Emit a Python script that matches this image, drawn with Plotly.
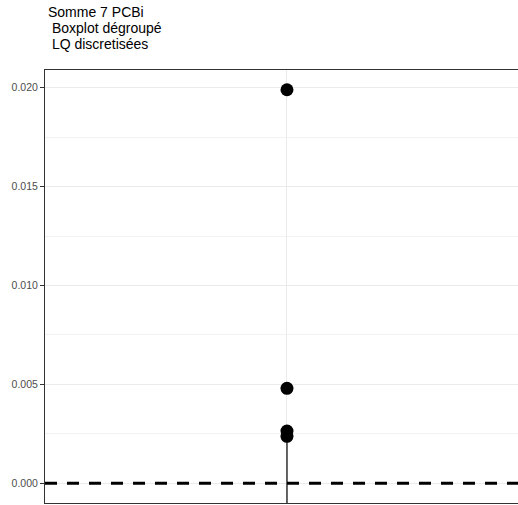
import plotly.graph_objects as go

# Data
category = [1]
outliers = [0.0199, 0.0048, 0.00264, 0.00237]
box_q1 = [-0.004]
box_median = [-0.003]
box_q3 = [-0.002]
box_lowerfence = [-0.005]
box_upperfence = [0.0022]
ref_line_value = 0.0
y_ticks = [0.000, 0.005, 0.010, 0.015, 0.020]
y_ticklabels = ["0.000", "0.005", "0.010", "0.015", "0.020"]
title_lines = ["Somme 7 PCBi", "\u00a0Boxplot dégroupé", "\u00a0LQ discretisées"]

W, H = 518, 505
ML, MR, MT, MB = 45, 0, 70, 2
PH = H - MT - MB
PW = W - ML - MR

fig = go.Figure()

fig.add_trace(go.Box(
    x=category,
    q1=box_q1, median=box_median, q3=box_q3,
    lowerfence=box_lowerfence, upperfence=box_upperfence,
    line=dict(color="#333333", width=1.5),
    fillcolor="white",
    width=0.75,
    whiskerwidth=0,
    boxpoints=False,
    showlegend=False,
    hoverinfo="skip",
))

fig.add_trace(go.Scatter(
    x=[category[0]] * len(outliers),
    y=outliers,
    mode="markers",
    marker=dict(color="black", size=13),
    showlegend=False,
    hoverinfo="skip",
))

fig.add_shape(
    type="line", xref="paper", x0=0, x1=1, yref="y", y0=ref_line_value, y1=ref_line_value,
    line=dict(color="black", width=3, dash="12px,10px"),
)

title_centers = [12, 28, 44]
for txt, yc in zip(title_lines, title_centers):
    fig.add_annotation(
        text=txt, xref="paper", x=(46 - ML) / PW, xanchor="left",
        yref="paper", y=1 + (MT - yc) / PH, yanchor="middle",
        showarrow=False,
        font=dict(size=14, color="black", family="Liberation Sans, Arial, sans-serif"),
    )

fig.update_layout(
    width=W, height=H,
    margin=dict(l=ML, r=MR, t=MT, b=MB, autoexpand=False),
    paper_bgcolor="white", plot_bgcolor="white",
    font=dict(family="Liberation Sans, Arial, sans-serif"),
    xaxis=dict(
        range=[0.4, 1.5728], tickvals=[1], showticklabels=False,
        showgrid=True, gridcolor="#ebebeb", gridwidth=1.2,
        showline=True, linecolor="#333333", linewidth=1, mirror=True,
        ticks="", zeroline=False, automargin=False,
    ),
    yaxis=dict(
        range=[-0.001, 0.0209],
        tickvals=y_ticks, ticktext=y_ticklabels,
        tickfont=dict(size=10.5, color="#4d4d4d"),
        ticks="outside", ticklen=4, tickcolor="#333333", tickwidth=1,
        showgrid=True, gridcolor="#ebebeb", gridwidth=1.2,
        minor=dict(tickvals=[0.0025, 0.0075, 0.0125, 0.0175], showgrid=True,
                   gridcolor="#f2f2f2", gridwidth=0.8, ticks=""),
        showline=True, linecolor="#333333", linewidth=1,
        zeroline=False, automargin=False,
    ),
)

fig.write_html(
    "out.html",
    config={"displayModeBar": False},
    post_script="document.body.style.margin='0';document.body.style.overflow='hidden';",
)
